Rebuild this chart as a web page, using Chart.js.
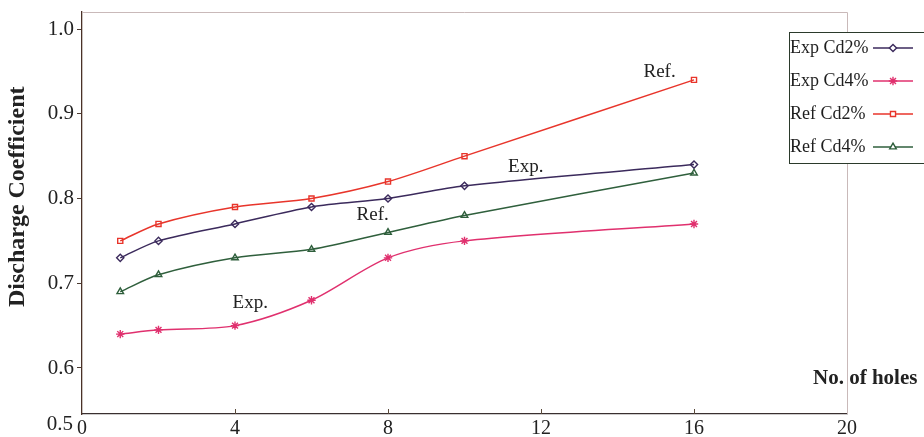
<!DOCTYPE html>
<html>
<head>
<meta charset="utf-8">
<script src="https://cdn.jsdelivr.net/npm/chart.js@4.4.1/dist/chart.umd.min.js"></script>
<style>
  html, body { margin: 0; padding: 0; background: #ffffff; }
  #wrap { width: 924px; height: 437px; }
</style>
</head>
<body>
<div id="wrap"><canvas id="cd" width="924" height="437"></canvas></div>
<script>
// Number of holes and discharge coefficients per case
const holes = [1, 2, 4, 6, 8, 10, 16];
const expCd2 = [0.73, 0.75, 0.77, 0.79, 0.80, 0.815, 0.84];
const expCd4 = [0.64, 0.645, 0.65, 0.68, 0.73, 0.75, 0.77];
const refCd2 = [0.75, 0.77, 0.79, 0.80, 0.82, 0.85, 0.94];
const refCd4 = [0.69, 0.71, 0.73, 0.74, 0.76, 0.78, 0.83];

const seriesNames = ['Exp Cd2%', 'Exp Cd4%', 'Ref Cd2%', 'Ref Cd4%'];
const yTicks = [0.6, 0.7, 0.8, 0.9, 1.0];
const xTicks = [0, 4, 8, 12, 16, 20];

// In-plot notes: [text, holes, coefficient]
const notes = [
  ['Ref.', 15.1, 0.949],
  ['Exp.', 11.6, 0.837],
  ['Ref.', 7.6, 0.781],
  ['Exp.', 4.4, 0.677]
];

const SERIF = '"Liberation Serif", "Times New Roman", serif';
const colors = ['#3b2a5c', '#e0306e', '#e8352b', '#2f5f3c'];
const styles = ['rectRot', 'star', 'rect', 'triangle'];
const radii = [3.6, 4.2, 3.6, 3.8];
const values = [expCd2, expCd4, refCd2, refCd4];

const datasets = values.map((vals, i) => ({
  label: seriesNames[i],
  data: holes.map((h, k) => ({ x: h, y: vals[k] })),
  borderColor: colors[i],
  backgroundColor: '#ffffff',
  borderWidth: 1.5,
  pointStyle: styles[i],
  pointRadius: radii[i],
  pointBorderWidth: 1.4,
  pointBorderColor: colors[i],
  pointBackgroundColor: 'rgba(255,255,255,0)',
  tension: 0.3,
  fill: false
}));

const decorations = {
  id: 'decorations',
  afterDraw(chart) {
    const { ctx, chartArea: a, scales: { x, y } } = chart;
    ctx.save();

    // light frame along top and right
    ctx.strokeStyle = '#c9b9b9';
    ctx.lineWidth = 1;
    ctx.beginPath();
    ctx.moveTo(a.left, a.top + 0.5);
    ctx.lineTo(a.right + 0.5, a.top + 0.5);
    ctx.lineTo(a.right + 0.5, a.bottom);
    ctx.stroke();

    // small inward tick marks on the x axis
    ctx.strokeStyle = '#5a4a3a';
    ctx.beginPath();
    xTicks.slice(1, -1).forEach(v => {
      const px = Math.round(x.getPixelForValue(v)) + 0.5;
      ctx.moveTo(px, a.bottom);
      ctx.lineTo(px, a.bottom - 5);
    });
    ctx.stroke();

    // vertical axis title
    ctx.fillStyle = '#222222';
    ctx.save();
    ctx.translate(18, y.getPixelForValue(0.802));
    ctx.rotate(-Math.PI / 2);
    ctx.font = 'bold 24px ' + SERIF;
    ctx.textAlign = 'center';
    ctx.textBaseline = 'middle';
    ctx.fillText('Discharge Coefficient', 0, 0);
    ctx.restore();

    // bottom-corner value of the vertical axis
    ctx.font = '21px ' + SERIF;
    ctx.textAlign = 'right';
    ctx.textBaseline = 'middle';
    ctx.fillText('0.5', a.left - 9, a.bottom + 10);

    // notes inside the plot
    ctx.textAlign = 'center';
    ctx.font = '19px ' + SERIF;
    notes.forEach(([t, hx, cy]) => {
      ctx.fillText(t, x.getPixelForValue(hx), y.getPixelForValue(cy));
    });

    // horizontal axis title
    ctx.font = 'bold 21px ' + SERIF;
    ctx.textAlign = 'left';
    ctx.fillText('No. of holes', a.right - 34, y.getPixelForValue(0.588));

    // legend box: name then line sample with marker
    const bx = a.right - 58, by = a.top + 20, bh = 131;
    ctx.fillStyle = '#ffffff';
    ctx.fillRect(bx, by, 200, bh);
    ctx.strokeStyle = '#2b3a2b';
    ctx.lineWidth = 1;
    ctx.strokeRect(bx + 0.5, by + 0.5, 200, bh);
    chart.data.datasets.forEach((ds, i) => {
      const ly = by + 16 + i * 33;
      ctx.fillStyle = '#1e1e1e';
      ctx.font = '18px ' + SERIF;
      ctx.textAlign = 'left';
      ctx.textBaseline = 'middle';
      ctx.fillText(ds.label, bx + 1, ly);
      ctx.strokeStyle = ds.borderColor;
      ctx.lineWidth = 1.5;
      ctx.beginPath();
      ctx.moveTo(bx + 84, ly);
      ctx.lineTo(bx + 124, ly);
      ctx.stroke();
      ctx.lineWidth = 1.4;
      ctx.fillStyle = '#ffffff';
      Chart.helpers.drawPoint(ctx, {
        pointStyle: ds.pointStyle, radius: ds.pointRadius, rotation: 0, borderWidth: 1.4
      }, bx + 104, ly);
    });

    ctx.restore();
  }
};

new Chart(document.getElementById('cd'), {
  type: 'line',
  data: { datasets },
  options: {
    responsive: false,
    animation: false,
    layout: { padding: { top: 12, right: 77, left: 0, bottom: 0 } },
    plugins: { legend: { display: false }, tooltip: { enabled: false } },
    scales: {
      x: {
        type: 'linear',
        min: 0,
        max: 20,
        afterBuildTicks(s) { s.ticks = xTicks.map(v => ({ value: v })); },
        afterFit(s) { s.height = 23; s.paddingLeft = 0; s.paddingRight = 0; },
        grid: { display: false },
        border: { display: true, color: '#3a3030', width: 1.3 },
        ticks: {
          color: '#222222',
          font: { family: SERIF, size: 20 },
          padding: -5,
          maxRotation: 0,
          callback: v => String(v)
        }
      },
      y: {
        min: 0.5457,
        max: 1.0201,
        afterBuildTicks(s) { s.ticks = yTicks.map(v => ({ value: v })); },
        afterFit(s) { s.width = 82; s.paddingTop = 0; s.paddingBottom = 0; },
        grid: { display: true, drawOnChartArea: false, drawTicks: true, tickLength: 5, color: '#4a3a30' },
        border: { display: true, color: '#4a3228', width: 1.3 },
        ticks: {
          color: '#222222',
          font: { family: SERIF, size: 21 },
          padding: 3,
          callback: v => Number(v).toFixed(1)
        }
      }
    }
  },
  plugins: [decorations]
});
</script>
</body>
</html>
